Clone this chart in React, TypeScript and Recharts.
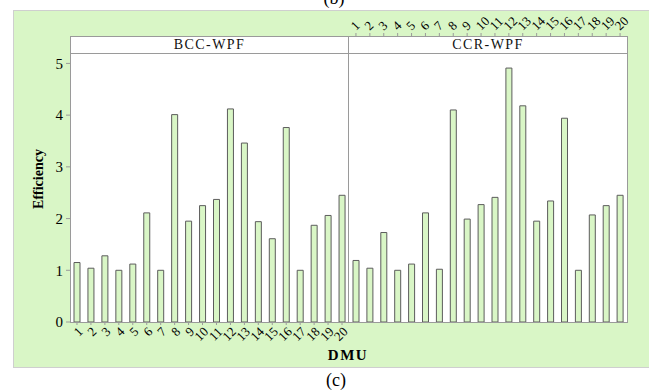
import React from 'react';
import { BarChart, Bar, XAxis, YAxis } from 'recharts';

// DMU categories and efficiency scores per model
const dmu = ['1', '2', '3', '4', '5', '6', '7', '8', '9', '10', '11', '12', '13', '14', '15', '16', '17', '18', '19', '20'];
const bccWpf = [1.15, 1.04, 1.28, 1.0, 1.12, 2.11, 1.0, 4.01, 1.95, 2.25, 2.37, 4.12, 3.46, 1.94, 1.61, 3.76, 1.0, 1.87, 2.06, 2.45];
const ccrWpf = [1.19, 1.04, 1.73, 1.0, 1.12, 2.11, 1.02, 4.1, 1.99, 2.27, 2.41, 4.91, 4.18, 1.95, 2.34, 3.94, 1.0, 2.07, 2.25, 2.45];
const yTicks = [0, 1, 2, 3, 4, 5];
const panelTitles = ['BCC-WPF', 'CCR-WPF'];

// value range covers the strip header band above the bars
const Y_MAX = 5.53;

const bccData = dmu.map((d, i) => ({ dmu: d, value: bccWpf[i] }));
const ccrData = dmu.map((d, i) => ({ dmu: d, value: ccrWpf[i] }));

const SERIF = '"Liberation Serif", "Times New Roman", serif';
const GREEN = '#d9f6c6';
const BAR_STROKE = '#5c5c5c';
const FRAME = '#9a9a9a';

const W = 649;
const H = 392;

const abs = (l: number, t: number, w: number, h: number): React.CSSProperties => ({
  position: 'absolute',
  left: l,
  top: t,
  width: w,
  height: h,
  boxSizing: 'border-box',
});

export default function App() {
  return (
    <div style={{ position: 'absolute', left: 0, top: 0, width: W, height: H, background: '#fff', fontFamily: SERIF, overflow: 'hidden' }}>
      {/* outer backdrop */}
      <div style={{ ...abs(13, 10, 636, 358), background: GREEN, borderTop: '1px solid #cfcfcf', borderLeft: '1px solid #cfcfcf', borderBottom: '1px solid #cfcfcf' }} />

      {/* panel frame and divider */}
      <div style={{ ...abs(70, 36, 558, 287), background: '#fff', border: `1px solid ${FRAME}` }} />
      <div style={{ ...abs(348, 36, 1, 287), background: FRAME }} />

      {/* strip headers */}
      {panelTitles.map((t, i) => (
        <div
          key={t}
          style={{
            ...abs(i === 0 ? 70 : 348, 36, i === 0 ? 279 : 280, 18),
            border: `1px solid ${FRAME}`,
            background: '#fff',
            textAlign: 'center',
            fontSize: 14,
            lineHeight: '16px',
            letterSpacing: 1.4,
            color: '#111',
          }}
        >
          {t}
        </div>
      ))}

      {/* BCC-WPF panel */}
      <div style={{ position: 'absolute', left: 0, top: 0 }}>
        <BarChart width={W} height={H} data={bccData} margin={{ top: 36, right: 300, bottom: 30, left: 0 }}>
          <XAxis
            dataKey="dmu"
            height={40}
            interval={0}
            axisLine={false}
            tickLine={{ stroke: FRAME }}
            tickSize={3}
            tickMargin={1}
            tick={{ angle: -45, textAnchor: 'end', fontSize: 13, fill: '#000', fontFamily: SERIF }}
          />
          <YAxis
            width={70}
            type="number"
            domain={[0, Y_MAX]}
            allowDataOverflow
            ticks={yTicks}
            axisLine={false}
            tickLine={{ stroke: FRAME }}
            tickSize={4}
            tickMargin={3}
            tick={{ fontSize: 15, fill: '#000', fontFamily: SERIF }}
            label={{ value: 'Efficiency', angle: -90, position: 'center', dx: 3, fontSize: 14, fontWeight: 'bold', fill: '#000', fontFamily: SERIF }}
          />
          <Bar dataKey="value" barSize={6} fill={GREEN} stroke={BAR_STROKE} strokeWidth={1} isAnimationActive={false} />
        </BarChart>
      </div>

      {/* CCR-WPF panel */}
      <div style={{ position: 'absolute', left: 0, top: 0 }}>
        <BarChart width={W} height={H} data={ccrData} margin={{ top: 6, right: 22, bottom: 70, left: 349 }}>
          <XAxis
            dataKey="dmu"
            orientation="top"
            height={30}
            interval={0}
            axisLine={false}
            tickLine={{ stroke: FRAME }}
            tickSize={3}
            tickMargin={2}
            tick={{ angle: -45, textAnchor: 'start', fontSize: 13, fill: '#000', fontFamily: SERIF }}
          />
          <YAxis hide type="number" domain={[0, Y_MAX]} allowDataOverflow ticks={yTicks} />
          <Bar dataKey="value" barSize={6} fill={GREEN} stroke={BAR_STROKE} strokeWidth={1} isAnimationActive={false} />
        </BarChart>
      </div>

      {/* axis title and captions */}
      <div style={{ ...abs(248, 345, 200, 20), textAlign: 'center', fontSize: 15, fontWeight: 'bold', letterSpacing: 1.5, lineHeight: '20px', color: '#000' }}>
        DMU
      </div>
      <div style={{ ...abs(286, 369, 100, 22), textAlign: 'center', fontSize: 18, lineHeight: '22px', color: '#000' }}>(c)</div>
      <div style={{ ...abs(284, -13, 100, 22), textAlign: 'center', fontSize: 18, lineHeight: '22px', color: '#000' }}>(b)</div>
    </div>
  );
}
